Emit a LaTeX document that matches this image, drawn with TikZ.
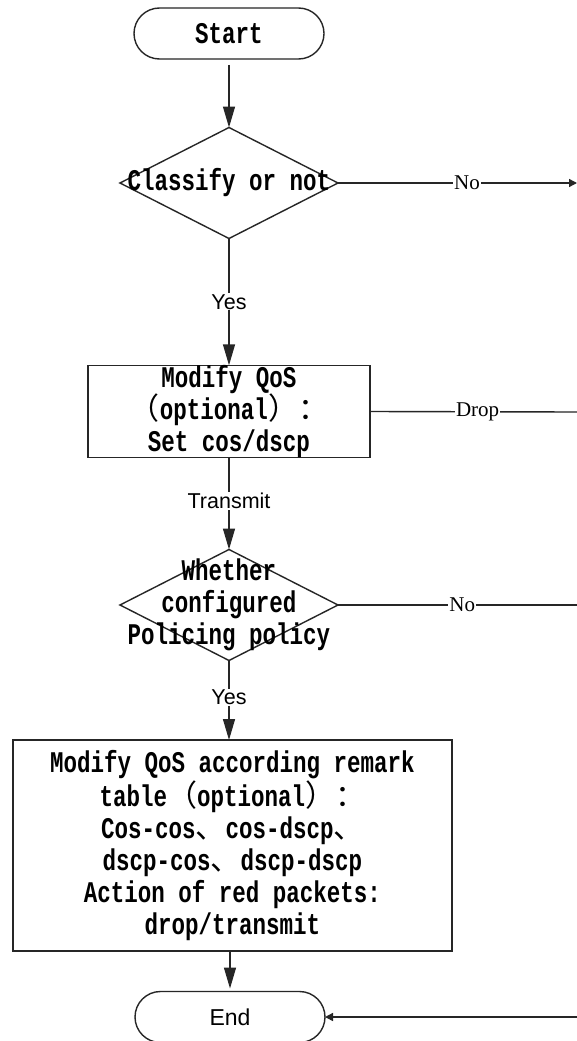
\documentclass[tikz,border=0pt]{standalone}
\usepackage{fontspec}
\usetikzlibrary{shapes.geometric,shapes.misc,arrows.meta}
\newfontfamily\boxfont{Liberation Mono}[FakeStretch=0.75]
\newfontfamily\cjkfont{Noto Sans CJK SC}
\newfontfamily\lblsans{Liberation Sans}
\newfontfamily\lblserif{Liberation Serif}
\newcommand\cj[1]{{\cjkfont\mdseries #1}}
\tikzset{
  ln/.style={line width=1.4pt, draw=black!85},
  arr/.style={ln, -{Triangle[length=21pt,width=12pt]}},
  arrsmall/.style={ln, -{Triangle[length=8pt,width=8pt]}},
  term/.style={rounded rectangle, ln, minimum width=190pt, minimum height=51pt, inner sep=0pt, outer sep=0pt},
  proc/.style={rectangle, ln, align=center, inner sep=0pt, outer sep=0pt,
    font=\boxfont\bfseries\fontsize{30}{32}\selectfont},
  dia/.style={diamond, ln, inner sep=0pt, outer sep=0pt, minimum width=218pt, minimum height=111pt},
  btxt/.style={align=center, inner sep=0pt, font=\boxfont\bfseries\fontsize{30}{32}\selectfont},
  lab/.style={fill=white, inner sep=1pt, font=\lblsans\fontsize{21.5}{24}\selectfont},
  labr/.style={fill=white, inner sep=1pt, font=\lblserif\fontsize{21}{24}\selectfont},
}
\begin{document}
\begin{tikzpicture}[x=1pt,y=-1pt]
\useasboundingbox (0,0) rectangle (577,1041);
\clip (0,0) rectangle (577,1041);
\fill[white] (0,0) rectangle (577,1041);

\node[term, font=\boxfont\bfseries\fontsize{30}{32}\selectfont] (start) at (229,33.5) {Start};
\node[dia] (d1) at (229,183) {};
\node[btxt] (t1) at (d1.center) {Classify or not};
\node[proc, minimum width=282pt, minimum height=91pt] (b1) at (229,411.5)
  {Modify QoS\\\cj{（}optional\cj{）：}\\Set cos/dscp};
\node[dia] (d2) at (229,605) {};
\node[btxt] (t2) at (d2.center) {Whether\\configured\\Policing policy};
\node[proc, minimum width=439pt, minimum height=211pt] (b2) at (232.5,845.5)
  {Modify QoS according remark\\table\cj{（}optional\cj{）：}\\Cos-cos\cj{、}cos-dscp\cj{、}\\dscp-cos\cj{、}dscp-dscp\\Action of red packets:\\drop/transmit};
\node[term, font=\lblsans\fontsize{23}{26}\selectfont] (end) at (230,1017) {End};

\coordinate (r1) at (577,183);
\coordinate (r2) at (577,412);
\coordinate (r3) at (577,605);
\coordinate (r4) at (577,1017);

\draw[arr, shorten <=6pt] (start) -- (d1.north);
\draw[arr] (d1.south) -- node[lab]{Yes} (b1.north);
\draw[arr] (b1.south) -- node[lab, pos=0.47]{Transmit} (d2.north);
\draw[arr] (d2.south) -- node[lab, pos=0.46]{Yes} (d2.south |- b2.north);
\draw[arr, shorten >=3pt] (end.north |- b2.south) -- (end.north);

\draw[arrsmall] (d1.east) -- node[labr, pos=0.54]{No} (r1);
\draw[ln] (b1.east) -- node[labr, pos=0.52]{Drop} (r2);
\draw[ln] (d2.east) -- node[labr, pos=0.52]{No} (r3);
\draw[arrsmall] (r4) -- (end.east);
\end{tikzpicture}
\end{document}
